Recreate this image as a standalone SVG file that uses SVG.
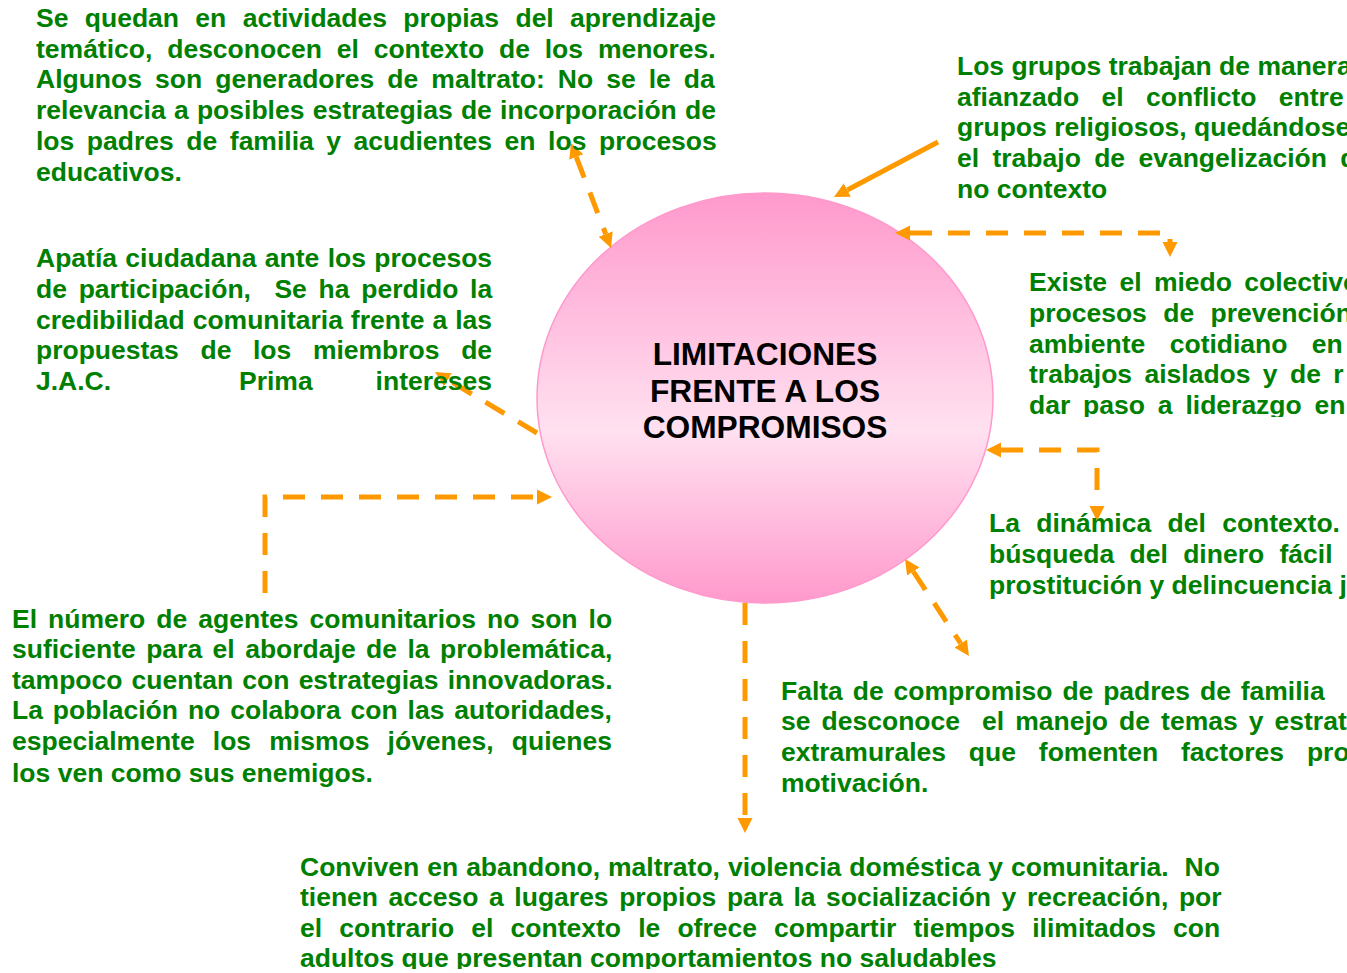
<svg xmlns="http://www.w3.org/2000/svg" width="1347" height="973" viewBox="0 0 1347 973">
<style>
.t{font-family:"Liberation Sans",Arial,sans-serif;font-weight:bold;font-size:26.5px;fill:#008000;white-space:pre}
.title{font-family:"Liberation Sans",Arial,sans-serif;font-weight:bold;font-size:31.7px;fill:#000;text-anchor:middle}
.c{fill:none;stroke:#ff9900;stroke-width:5}
.d{stroke-dasharray:22 16}
</style>
<defs>
<linearGradient id="g" x1="0" y1="0" x2="0" y2="1">
<stop offset="0" stop-color="#ff99cc"/>
<stop offset="0.58" stop-color="#ffe1f0"/>
<stop offset="1" stop-color="#ff99cc"/>
</linearGradient>
<marker id="ah" viewBox="0 0 10 10" refX="0" refY="5" markerWidth="3" markerHeight="3.2" orient="auto-start-reverse" markerUnits="strokeWidth">
<path d="M0,0 L10,5 L0,10 z" fill="#ff9900"/>
</marker>
<clipPath id="clipC"><rect x="1000" y="250" width="400" height="167"/></clipPath>
<clipPath id="clipF"><rect x="280" y="840" width="1000" height="129"/></clipPath>
</defs>
<rect width="1347" height="973" fill="#fff"/>

<g id="center">
<ellipse cx="765" cy="398" rx="228" ry="205" fill="url(#g)" stroke="#ff99cc" stroke-width="1.5"/>
<text class="title" x="765" y="365">LIMITACIONES</text>
<text class="title" x="765" y="402">FRENTE A LOS</text>
<text class="title" x="765" y="438">COMPROMISOS</text>
</g>

<g id="connectors">
<path class="c d" d="M576.3,157 L605.7,234" marker-start="url(#ah)" marker-end="url(#ah)"/>
<path class="c" d="M938,142 L847.3,190" marker-end="url(#ah)"/>
<path class="c d" d="M910,233 H1170 V242" marker-start="url(#ah)" marker-end="url(#ah)"/>
<path class="c d" d="M1001,450 H1097 V506" marker-start="url(#ah)" marker-end="url(#ah)"/>
<path class="c d" d="M913.3,571.5 L960.7,643.5" marker-start="url(#ah)" marker-end="url(#ah)"/>
<path class="c d" d="M745,603 V818" marker-end="url(#ah)"/>
<path class="c d" d="M265,593 V497 H537" marker-end="url(#ah)"/>
<path class="c d" d="M537,433 L447.9,379.7" marker-end="url(#ah)"/>
</g>

<g id="nodeA">
<text class="t" x="36" y="27" word-spacing="9">Se quedan en actividades propias del aprendizaje</text>
<text class="t" x="36" y="58" word-spacing="7.5">temático, desconocen el contexto de los menores.</text>
<text class="t" x="36" y="88" word-spacing="5.7">Algunos son generadores de maltrato: No se le da</text>
<text class="t" x="36" y="119" word-spacing="0.9">relevancia a posibles estrategias de incorporación de</text>
<text class="t" x="36" y="150" word-spacing="5.2">los padres de familia y acudientes en los procesos</text>
<text class="t" x="36" y="181">educativos.</text>
</g>

<g id="nodeB">
<text class="t" x="957" y="75">Los grupos trabajan de manera</text>
<text class="t" x="957" y="105.7" word-spacing="15">afianzado el conflicto entre</text>
<text class="t" x="957" y="136.4">grupos religiosos, quedándose</text>
<text class="t" x="957" y="167" word-spacing="6">el trabajo de evangelización de</text>
<text class="t" x="957" y="198">no contexto</text>
</g>

<g id="nodeC" clip-path="url(#clipC)">
<text class="t" x="1029" y="291" word-spacing="5">Existe el miedo colectivo</text>
<text class="t" x="1029" y="322" word-spacing="9">procesos de prevención</text>
<text class="t" x="1029" y="353" word-spacing="17">ambiente cotidiano en</text>
<text class="t" x="1029" y="383" word-spacing="5">trabajos aislados y de r</text>
<text class="t" x="1029" y="414" word-spacing="5.5">dar paso a liderazgo en</text>
</g>

<g id="nodeD">
<text class="t" x="989" y="532" word-spacing="9">La dinámica del contexto.</text>
<text class="t" x="989" y="563" word-spacing="8">búsqueda del dinero fácil</text>
<text class="t" x="989" y="594">prostitución y delincuencia j</text>
</g>

<g id="nodeE">
<text class="t" x="781" y="700" word-spacing="2.5">Falta de compromiso de padres de familia</text>
<text class="t" x="781" y="730" word-spacing="3.7">se desconoce  el manejo de temas y estrat</text>
<text class="t" x="781" y="761" word-spacing="15.5">extramurales que fomenten factores pro</text>
<text class="t" x="781" y="792">motivación.</text>
</g>

<g id="nodeF" clip-path="url(#clipF)">
<text class="t" x="300" y="876" word-spacing="0.6">Conviven en abandono, maltrato, violencia doméstica y comunitaria.  No</text>
<text class="t" x="300" y="906" word-spacing="3.2">tienen acceso a lugares propios para la socialización y recreación, por</text>
<text class="t" x="300" y="937" word-spacing="9.8">el contrario el contexto le ofrece compartir tiempos ilimitados con</text>
<text class="t" x="300" y="967">adultos que presentan comportamientos no saludables</text>
</g>

<g id="nodeG">
<text class="t" x="12" y="628" word-spacing="3.7">El número de agentes comunitarios no son lo</text>
<text class="t" x="12" y="658" word-spacing="3.1">suficiente para el abordaje de la problemática,</text>
<text class="t" x="12" y="689" word-spacing="1.8">tampoco cuentan con estrategias innovadoras.</text>
<text class="t" x="12" y="719" word-spacing="2.56">La población no colabora con las autoridades,</text>
<text class="t" x="12" y="750" word-spacing="10.8">especialmente los mismos jóvenes, quienes</text>
<text class="t" x="12" y="782">los ven como sus enemigos.</text>
</g>

<g id="nodeH">
<text class="t" x="36" y="267" word-spacing="1">Apatía ciudadana ante los procesos</text>
<text class="t" x="36" y="298" word-spacing="4.37">de participación,  Se ha perdido la</text>
<text class="t" x="36" y="329" word-spacing="0.6">credibilidad comunitaria frente a las</text>
<text class="t" x="36" y="359" word-spacing="14.25">propuestas de los miembros de</text>
<text class="t" x="36" y="390">J.A.C.</text>
<text class="t" x="239" y="390">Prima</text>
<text class="t" x="492" y="390" text-anchor="end">intereses</text>
</g>
</svg>
